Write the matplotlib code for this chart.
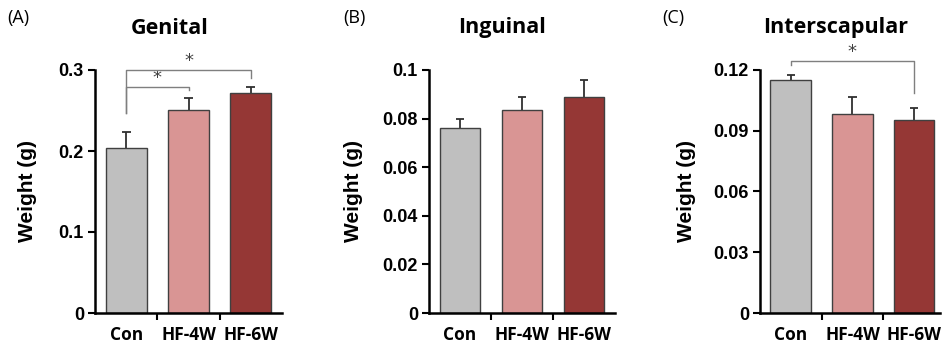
import matplotlib
matplotlib.use("Agg")
import matplotlib.pyplot as plt
import numpy as np

groups = ["Con", "HF-4W", "HF-6W"]
colors = ["#bfbfbf", "#d99594", "#953735"]

genital_mean = [0.204, 0.251, 0.271]
genital_err = [0.019, 0.015, 0.008]
inguinal_mean = [0.076, 0.0835, 0.089]
inguinal_err = [0.004, 0.0055, 0.007]
inter_mean = [0.115, 0.0985, 0.0955]
inter_err = [0.0025, 0.008, 0.0055]

titles = ["Genital", "Inguinal", "Interscapular"]
letters = ["(A)", "(B)", "(C)"]
ylims = [0.3, 0.1, 0.12]
yticks = [[0, 0.1, 0.2, 0.3],
          [0, 0.02, 0.04, 0.06, 0.08, 0.1],
          [0, 0.03, 0.06, 0.09, 0.12]]
ytick_labels = [["0", "0.1", "0.2", "0.3"],
                ["0", "0.02", "0.04", "0.06", "0.08", "0.1"],
                ["0", "0.03", "0.06", "0.09", "0.12"]]

# brackets: (from, to, top y, left foot y, right foot y)
genital_brackets = [(0, 1, 0.279, 0.247, 0.275), (0, 2, 0.300, 0.247, 0.290)]
inter_brackets = [(0, 2, 0.1245, 0.1225, 0.1087)]
brackets = [genital_brackets, [], inter_brackets]

means = [genital_mean, inguinal_mean, inter_mean]
errs = [genital_err, inguinal_err, inter_err]

W, H = 943, 345
fig = plt.figure(figsize=(W / 100, H / 100), dpi=100)

panel_left = [95, 429, 760]
panel_width = [187, 186, 180]
title_x = [170, 502, 836]
letter_x = [7, 343, 662]
ylabel_right = [37, 363, 696]

num_font = "Liberation Sans"
text_font = "Open Sans"

for i in range(3):
    ax = fig.add_axes([panel_left[i] / W, 1 - 313 / H, panel_width[i] / W, (313 - 70) / H])
    x = np.arange(3)
    m = np.array(means[i])
    e = np.array(errs[i])
    ax.bar(x, m, width=0.66, color=colors, edgecolor="#404040", linewidth=1.0, zorder=2)
    ax.vlines(x, m, m + e, color="#303030", lw=1.3, zorder=1)
    ax.hlines(m + e, x - 0.07, x + 0.07, color="#303030", lw=1.3, zorder=1)
    ax.set_xlim(-0.5, 2.5 if i < 2 else 2.42)
    ax.set_ylim(0, ylims[i])
    ax.spines["top"].set_visible(False)
    ax.spines["right"].set_visible(False)
    ax.spines["left"].set_linewidth(1.8)
    ax.spines["bottom"].set_linewidth(1.8)
    ax.set_yticks(yticks[i])
    ax.set_yticklabels(ytick_labels[i], fontfamily=num_font, fontweight="bold", fontsize=13)
    ax.tick_params(axis="y", direction="out", length=5, width=1.5, pad=3)
    ax.set_xticks(x)
    ax.set_xticklabels(groups, fontfamily=text_font, fontweight="bold", fontsize=12.5)
    ax.tick_params(axis="x", length=0, pad=9)
    ax.set_xticks([0.5, 1.5], minor=True)
    ax.tick_params(axis="x", which="minor", direction="out", length=5, width=1.5)
    ax.set_ylabel("Weight (g)", fontfamily=num_font, fontweight="bold", fontsize=15)
    ax.yaxis.set_label_coords(-(panel_left[i] - ylabel_right[i]) / panel_width[i], 0.5)

    for a, b, top, yl, yr in brackets[i]:
        ax.plot([a, a, b, b], [yl, top, top, yr], color="#7f7f7f", lw=1.0, clip_on=False, zorder=3)
        ax.text((a + b) / 2, top, "*", ha="center", va="bottom", fontsize=13,
                color="#404040", fontfamily="DejaVu Sans")

    fig.text(title_x[i] / W, 1 - 28 / H, titles[i], ha="center", va="center",
             fontfamily=text_font, fontweight="bold", fontsize=15.5)
    fig.text(letter_x[i] / W, 1 - 18 / H, letters[i], ha="left", va="center",
             fontfamily=text_font, fontsize=13)

fig.savefig("out.png", dpi=100)
